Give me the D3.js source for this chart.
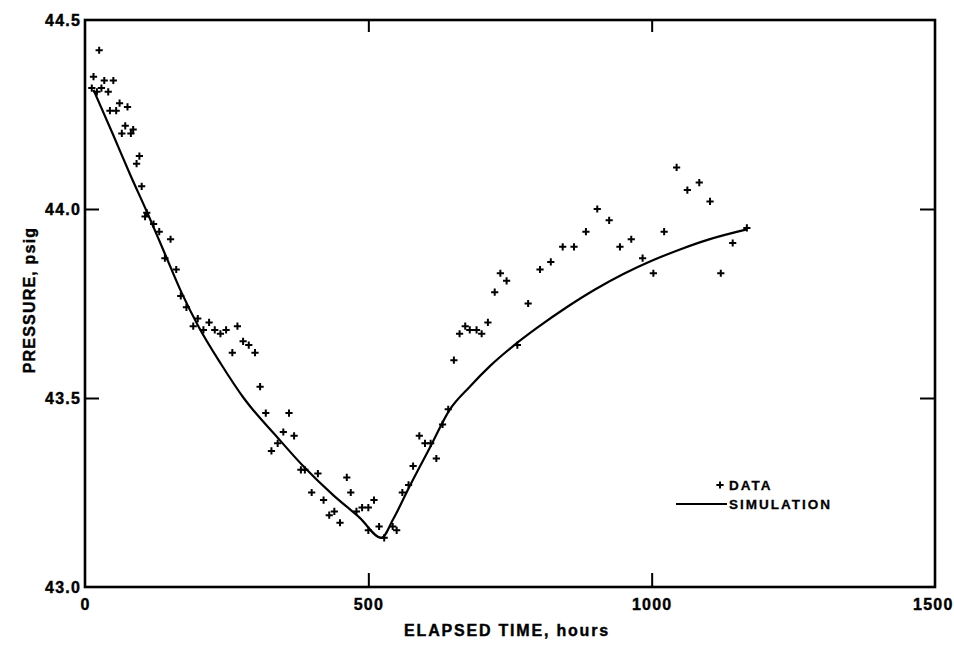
<!DOCTYPE html>
<html>
<head>
<meta charset="utf-8">
<script src="https://cdn.jsdelivr.net/npm/d3@7"></script>
<style>
  body { margin: 0; background: #fff; }
  svg text { font-family: "Liberation Sans", Arial, sans-serif; font-weight: bold; fill: #000; }
</style>
</head>
<body>
<svg id="chart" width="954" height="656"></svg>
<script>
// ---- data ----
const dataTime = [12,15,21,25,29,34,41,44,50,55,61,65,71,75,81,85,91,96,100,106,109,121,131,141,151,161,169,179,191,199,209,219,229,239,249,260,269,279,289,300,309,319,329,340,350,360,369,381,388,400,411,421,431,440,450,462,469,479,489,500,500,510,519,528,543,550,560,571,579,590,600,610,620,631,641,651,661,671,679,691,700,711,723,733,744,763,782,803,822,843,863,884,904,925,944,964,984,1003,1022,1044,1063,1084,1103,1122,1143,1168];
const dataPressure = [44.32,44.35,44.31,44.42,44.32,44.34,44.31,44.26,44.34,44.26,44.28,44.20,44.22,44.27,44.20,44.21,44.12,44.14,44.06,43.98,43.99,43.96,43.94,43.87,43.92,43.84,43.77,43.74,43.69,43.71,43.68,43.70,43.68,43.67,43.68,43.62,43.69,43.65,43.64,43.62,43.53,43.46,43.36,43.38,43.41,43.46,43.40,43.31,43.31,43.25,43.30,43.23,43.19,43.20,43.17,43.29,43.25,43.20,43.21,43.21,43.15,43.23,43.16,43.13,43.16,43.15,43.25,43.27,43.32,43.40,43.38,43.38,43.34,43.43,43.47,43.60,43.67,43.69,43.68,43.68,43.67,43.70,43.78,43.83,43.81,43.64,43.75,43.84,43.86,43.90,43.90,43.94,44.00,43.97,43.90,43.92,43.87,43.83,43.94,44.11,44.05,44.07,44.02,43.83,43.91,43.95];
const simTime = [15,50,80,110,140,170,200,240,280,340,385,438,485,523,544,574,609,644,679,715,756,800,850,900,950,1000,1050,1100,1168];
const simPressure = [44.315,44.195,44.09,43.99,43.885,43.78,43.69,43.59,43.50,43.395,43.32,43.243,43.183,43.13,43.18,43.27,43.37,43.47,43.53,43.585,43.638,43.688,43.74,43.787,43.828,43.863,43.893,43.919,43.946];
const xTicks = [0, 500, 1000, 1500];
const yTicks = [43.0, 43.5, 44.0, 44.5];
const legendLabels = ["DATA", "SIMULATION"];
const xTitle = "ELAPSED TIME, hours";
const yTitle = "PRESSURE, psig";

// ---- layout ----
const L = 85, R = 935, T = 20, B = 587;
const svg = d3.select("#chart");
const x = d3.scaleLinear().domain([0, 1500]).range([L, R]);
const y = d3.scaleLinear().domain([43.0, 44.5]).range([B, T]);

// axes
const fmtY = d3.format(".1f");
const gBottom = svg.append("g").attr("transform", `translate(0,${B})`)
  .call(d3.axisBottom(x).tickValues(xTicks).tickFormat(d3.format("d")).tickSizeInner(-14).tickSizeOuter(0).tickPadding(12));
const gLeft = svg.append("g").attr("transform", `translate(${L},0)`)
  .call(d3.axisLeft(y).tickValues(yTicks).tickFormat(fmtY).tickSizeInner(-14).tickSizeOuter(0).tickPadding(4));
const gTop = svg.append("g").attr("transform", `translate(0,${T})`)
  .call(d3.axisTop(x).tickValues(xTicks.slice(1, 3)).tickFormat("").tickSizeInner(-12).tickSizeOuter(0));
const gRight = svg.append("g").attr("transform", `translate(${R},0)`)
  .call(d3.axisRight(y).tickValues(yTicks.slice(1, 3)).tickFormat("").tickSizeInner(-15).tickSizeOuter(0));
[gBottom, gLeft, gTop, gRight].forEach(g => {
  g.select(".domain").remove();
  g.selectAll(".tick line").attr("stroke", "#000").attr("stroke-width", 2);
  g.selectAll("text").style("font-size", "16px").style("letter-spacing", "1.2px")
    .style("font-family", '"Liberation Sans", Arial, sans-serif').style("font-weight", "bold")
    .attr("fill", "#000").attr("stroke", "#000").attr("stroke-width", 0.4);
});
gBottom.selectAll(".tick line").filter(d => d === 0 || d === 1500).remove();
gLeft.selectAll(".tick line").filter(d => d === 43.0 || d === 44.5).remove();
gBottom.selectAll(".tick text").filter(d => d === 1500).attr("text-anchor", "end").attr("x", 18);

// frame
svg.append("rect").attr("x", L).attr("y", T).attr("width", R - L).attr("height", B - T)
  .attr("fill", "none").attr("stroke", "#000").attr("stroke-width", 2.6);

// titles
svg.append("text").attr("x", 507).attr("y", 636).attr("text-anchor", "middle")
  .attr("stroke", "#000").attr("stroke-width", 0.4)
  .style("font-size", "16px").style("letter-spacing", "1.8px").text(xTitle);
svg.append("text").attr("transform", "translate(35,300) rotate(-90)").attr("text-anchor", "middle")
  .attr("stroke", "#000").attr("stroke-width", 0.4)
  .style("font-size", "16px").style("letter-spacing", "1.2px").text(yTitle);

// simulation line
const pts = simTime.map((t, i) => [t, simPressure[i]]);
svg.append("path").datum(pts)
  .attr("fill", "none").attr("stroke", "#000").attr("stroke-width", 2.2)
  .attr("d", d3.line().x(d => x(d[0])).y(d => y(d[1])).curve(d3.curveMonotoneX));

// data markers
const cs = 3.6;
const drawPlus = (g, cx, cy) => {
  g.append("path").attr("d", `M${cx - cs},${cy}H${cx + cs}M${cx},${cy - cs}V${cy + cs}`)
    .attr("stroke", "#000").attr("stroke-width", 2).attr("fill", "none");
};
const mg = svg.append("g");
dataTime.forEach((t, i) => drawPlus(mg, x(t), y(dataPressure[i])));

// legend
drawPlus(svg, 720, 485);
svg.append("text").attr("x", 729).attr("y", 490).attr("stroke", "#000").attr("stroke-width", 0.3)
  .style("font-size", "13.5px").style("letter-spacing", "2px").text(legendLabels[0]);
svg.append("line").attr("x1", 676).attr("x2", 727).attr("y1", 504).attr("y2", 504).attr("stroke", "#000").attr("stroke-width", 2);
svg.append("text").attr("x", 729).attr("y", 509).attr("stroke", "#000").attr("stroke-width", 0.3)
  .style("font-size", "13.5px").style("letter-spacing", "2px").text(legendLabels[1]);
</script>
</body>
</html>
